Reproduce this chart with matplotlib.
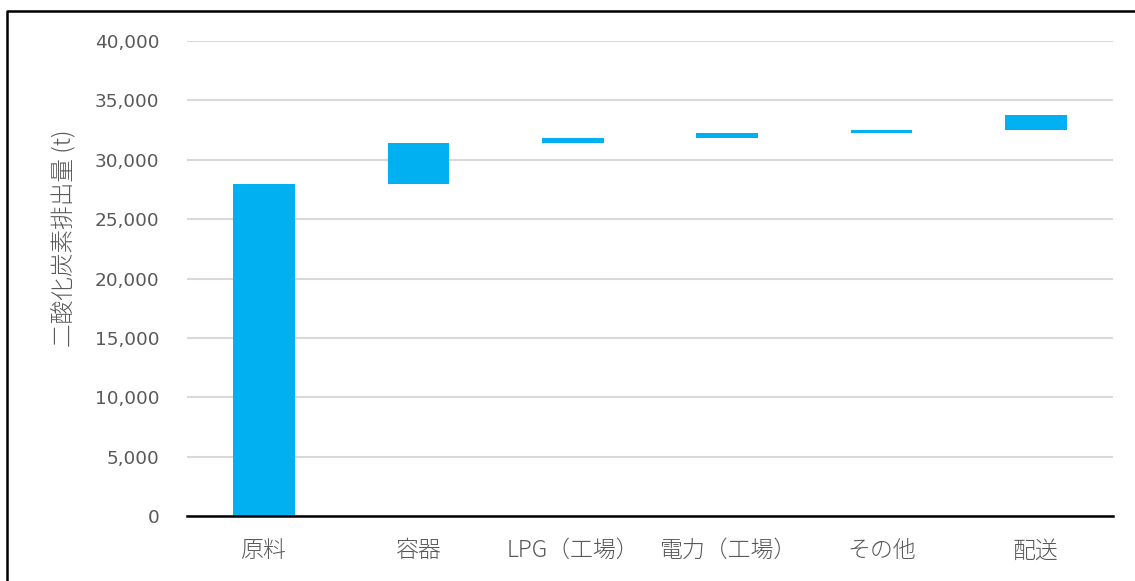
import matplotlib
matplotlib.use("Agg")
import matplotlib.pyplot as plt
from matplotlib.lines import Line2D
import numpy as np

# Data
categories = ['原料', '容器', 'LPG（工場）', '電力（工場）', 'その他', '配送']
increments = [28000, 3400, 400, 450, 250, 1300]
yticks = [0, 5000, 10000, 15000, 20000, 25000, 30000, 35000, 40000]

bottoms = np.concatenate([[0], np.cumsum(increments)[:-1]])

W, H = 1135, 581
fig = plt.figure(figsize=(W / 100, H / 100), dpi=100)
ax = fig.add_axes([187 / W, (H - 516) / H, (1113 - 187) / W, (516 - 41) / H])

x = np.arange(len(categories))
ax.bar(x, increments, bottom=bottoms, width=0.4, color='#00B0F0', zorder=3)

ax.set_xlim(-0.5, len(categories) - 0.5)
ax.set_ylim(0, 40000)
ax.set_yticks(yticks)
ax.set_yticklabels([f'{v:,}' for v in yticks])
ax.set_xticks(x)
ax.set_xticklabels(categories)

for lab in ax.get_yticklabels():
    lab.set_fontfamily(['DejaVu Sans'])
    lab.set_fontsize(13.3)
    lab.set_color('#595959')
for lab in ax.get_xticklabels():
    lab.set_fontfamily(['Noto Sans CJK JP', 'DejaVu Sans'])
    lab.set_fontsize(16.5)
    lab.set_fontweight('light')
    lab.set_color('#595959')

ax.tick_params(axis='y', length=0, pad=20)
ax.tick_params(axis='x', length=0, pad=16)

ax.grid(axis='y', color='#D9D9D9', linewidth=1.5, zorder=0)
ax.set_axisbelow(True)
for s in ['top', 'right', 'left']:
    ax.spines[s].set_visible(False)
ax.spines['bottom'].set_color('#000000')
ax.spines['bottom'].set_linewidth(1.8)
ax.spines['bottom'].set_zorder(4)

fig.text(64 / W, 1 - 238 / H, '二酸化炭素排出量 (t)', rotation=90,
         ha='center', va='center', fontsize=17, fontweight='light',
         color='#595959', family=['Noto Sans CJK JP', 'DejaVu Sans'])

# outer border (left and top visible)
bx, by = 7 / W, 1 - 11 / H
fig.add_artist(Line2D([bx, bx, 1], [0, by, by], transform=fig.transFigure,
                      color='black', linewidth=1.8))

fig.savefig('out.png', dpi=100, facecolor='white')
